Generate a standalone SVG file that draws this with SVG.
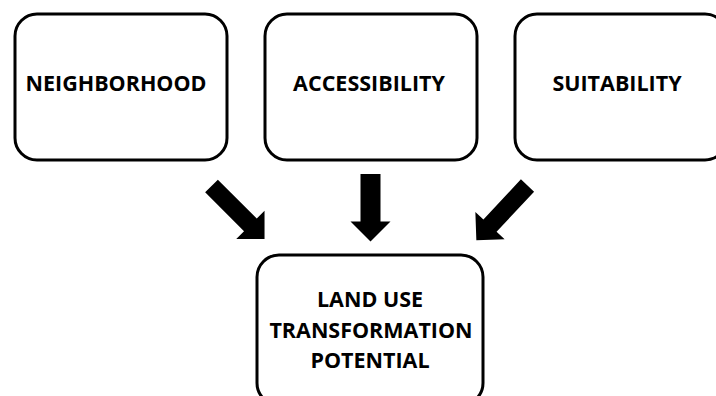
<svg xmlns="http://www.w3.org/2000/svg" width="716" height="396" viewBox="0 0 716 396">
<style>
.box{fill:#fff;stroke:#000;stroke-width:3}
.lbl{font-family:"Open Sans","Liberation Sans",sans-serif;font-weight:700;font-size:21.5px;fill:#000;text-anchor:middle}
.arrow{fill:#000}
</style>
<defs>
<path id="arr" d="M0,-9 H55 V-20 L75,0 L55,20 V9 H0 Z"/>
</defs>
<rect width="716" height="396" fill="#fff"/>
<g id="neighborhood">
<rect class="box" x="15" y="14" width="212" height="146" rx="22"/>
<text class="lbl" x="116" y="91">NEIGHBORHOOD</text>
</g>
<g id="accessibility">
<rect class="box" x="265" y="14" width="212" height="146" rx="22"/>
<text class="lbl" x="369" y="91">ACCESSIBILITY</text>
</g>
<g id="suitability">
<rect class="box" x="515" y="14" width="212" height="146" rx="22"/>
<text class="lbl" x="617" y="91">SUITABILITY</text>
</g>
<g id="potential">
<rect class="box" x="257" y="255" width="226" height="150" rx="22"/>
<text class="lbl" x="370" y="307">LAND USE</text>
<text class="lbl" x="371" y="338">TRANSFORMATION</text>
<text class="lbl" x="370" y="368">POTENTIAL</text>
</g>
<g id="connectors" class="arrow">
<use href="#arr" transform="translate(211.5,186) rotate(45)"/>
<path d="M360.5,174 H380.5 V221.5 H390.5 L370.5,241.5 L350.5,221.5 H360.5 Z"/>
<use href="#arr" transform="translate(527.5,185.5) rotate(133)"/>
</g>
</svg>
